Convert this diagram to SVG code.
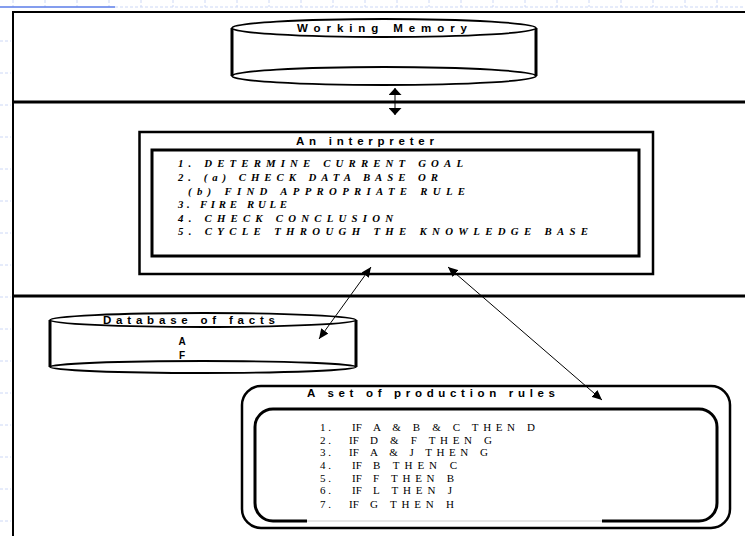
<svg xmlns="http://www.w3.org/2000/svg" width="745" height="536" viewBox="0 0 745 536">
  <style>
    .grid { stroke: #cdd8f6; stroke-width: 1; stroke-dasharray: 3 2; fill: none; }
    .frame { stroke: #000; fill: none; }
    .side { stroke: #000; stroke-width: 3; }
    .ell { stroke: #000; stroke-width: 1.8; fill: #fff; }
    .lbl { font-family: "Liberation Sans", Arial, sans-serif; font-weight: bold; font-size: 11.5px; fill: #000; }
    .step { font-family: "Liberation Serif", "Times New Roman", serif; font-weight: bold; font-style: italic; font-size: 10.8px; fill: #000; }
    .rule { font-family: "Liberation Serif", "Times New Roman", serif; font-size: 11px; fill: #000; }
    .fact { font-family: "Liberation Sans", Arial, sans-serif; font-weight: bold; font-size: 10px; fill: #000; }
    .conn { stroke: #000; stroke-width: 1; fill: none; }
  </style>
  <defs>
    <marker id="ah" markerUnits="userSpaceOnUse" markerWidth="11" markerHeight="9" refX="10" refY="4.5" orient="auto-start-reverse">
      <path d="M0,0 L10,4.5 L0,9 z" fill="#000"/>
    </marker>
    <marker id="ahv" markerUnits="userSpaceOnUse" markerWidth="8" markerHeight="13" refX="7" refY="6.5" orient="auto-start-reverse">
      <path d="M0,0 L7,6.5 L0,13 z" fill="#000"/>
    </marker>
  </defs>

  <rect x="0" y="0" width="745" height="536" fill="#fff"/>

  <g id="background">
    <line class="grid" x1="115" y1="7" x2="745" y2="7"/>
    <path class="grid" d="M13,0V7 M45,0V7 M77,0V7 M109,0V7 M141,0V7 M173,0V7 M205,0V7 M237,0V7 M269,0V7 M301,0V7 M333,0V7 M365,0V7 M397,0V7 M429,0V7 M461,0V7 M493,0V7 M525,0V7 M557,0V7 M589,0V7 M621,0V7 M653,0V7 M685,0V7 M717,0V7"/>
    <path class="grid" d="M0,41H11 M0,73H11 M0,105H11 M0,137H11 M0,169H11 M0,201H11 M0,233H11 M0,265H11 M0,297H11 M0,329H11 M0,361H11 M0,393H11 M0,425H11 M0,457H11 M0,489H11 M0,521H11"/>
    <line x1="0" y1="7" x2="115" y2="7" stroke="#5b7de8" stroke-width="1.5"/>
  </g>

  <g id="frame">
    <line class="frame" x1="13" y1="12" x2="745" y2="12" stroke-width="2"/>
    <line class="frame" x1="13" y1="11" x2="13" y2="536" stroke-width="2"/>
    <line class="frame" x1="13" y1="102" x2="745" y2="102" stroke-width="3"/>
    <line class="frame" x1="13" y1="296" x2="745" y2="296" stroke-width="3"/>
  </g>

  <g id="working-memory">
    <rect x="232" y="28" width="304" height="48" fill="#fff"/>
    <ellipse class="ell" cx="384" cy="76" rx="152" ry="9"/>
    <line class="side" x1="232" y1="28" x2="232" y2="76"/>
    <line class="side" x1="536" y1="28" x2="536" y2="76"/>
    <ellipse class="ell" cx="384" cy="28" rx="152" ry="9"/>
    <text class="lbl" x="297" y="32" font-size="12px" textLength="170" lengthAdjust="spacing">Working Memory</text>
  </g>

  <g id="interpreter">
    <rect x="139.5" y="132" width="513.5" height="142" fill="#fff" stroke="#000" stroke-width="2.5"/>
    <rect x="152" y="150" width="487" height="106" fill="#fff" stroke="#000" stroke-width="3"/>
    <text class="lbl" x="296" y="145" textLength="138" lengthAdjust="spacing">An interpreter</text>
    <text class="step" x="178" y="167" textLength="285" lengthAdjust="spacing">1. DETERMINE CURRENT GOAL</text>
    <text class="step" x="178" y="181" textLength="260" lengthAdjust="spacing">2. (a) CHECK DATA BASE OR</text>
    <text class="step" x="188" y="195" textLength="277" lengthAdjust="spacing">(b) FIND APPROPRIATE RULE</text>
    <text class="step" x="178" y="208" textLength="109" lengthAdjust="spacing">3. FIRE RULE</text>
    <text class="step" x="178" y="222" textLength="215" lengthAdjust="spacing">4. CHECK CONCLUSION</text>
    <text class="step" x="178" y="235" textLength="410" lengthAdjust="spacing">5. CYCLE THROUGH THE KNOWLEDGE BASE</text>
  </g>

  <g id="database">
    <rect x="50" y="320" width="306" height="47" fill="#fff"/>
    <ellipse class="ell" cx="203" cy="367" rx="153" ry="6"/>
    <line class="side" x1="50" y1="320" x2="50" y2="367"/>
    <line class="side" x1="356" y1="320" x2="356" y2="367"/>
    <ellipse class="ell" cx="203" cy="320" rx="153" ry="7"/>
    <text class="lbl" x="103" y="324" textLength="172" lengthAdjust="spacing">Database of facts</text>
    <text class="fact" x="182" y="345" text-anchor="middle">A</text>
    <text class="fact" x="182" y="359" text-anchor="middle">F</text>
  </g>

  <g id="production-rules">
    <rect x="242" y="386" width="488" height="142" rx="19" ry="19" fill="#fff" stroke="#000" stroke-width="2.5"/>
    <rect x="255" y="409" width="462" height="112" rx="18" ry="18" fill="#fff" stroke="#000" stroke-width="3"/>
    <line x1="307" y1="521" x2="602" y2="521" stroke="#fff" stroke-width="4"/>
    <line x1="307" y1="521" x2="602" y2="521" stroke="#bbb" stroke-width="0.8"/>
    <text class="lbl" x="307" y="397" textLength="248" lengthAdjust="spacing">A set of production rules</text>
    <text class="rule" x="320" y="431">1 .</text>
    <text class="rule" x="352" y="431">IF</text>
    <text class="rule" x="373" y="431" textLength="162" lengthAdjust="spacing">A &amp; B &amp; C THEN D</text>
    <text class="rule" x="320" y="444">2 .</text>
    <text class="rule" x="349" y="444">IF</text>
    <text class="rule" x="370" y="444" textLength="122" lengthAdjust="spacing">D &amp; F THEN G</text>
    <text class="rule" x="320" y="456">3 .</text>
    <text class="rule" x="349" y="456">IF</text>
    <text class="rule" x="370" y="456" textLength="118" lengthAdjust="spacing">A &amp; J THEN G</text>
    <text class="rule" x="320" y="469">4 .</text>
    <text class="rule" x="352" y="469">IF</text>
    <text class="rule" x="373" y="469" textLength="84" lengthAdjust="spacing">B THEN C</text>
    <text class="rule" x="320" y="482">5 .</text>
    <text class="rule" x="352" y="482">IF</text>
    <text class="rule" x="373" y="482" textLength="81" lengthAdjust="spacing">F THEN B</text>
    <text class="rule" x="320" y="494">6 .</text>
    <text class="rule" x="352" y="494">IF</text>
    <text class="rule" x="373" y="494" textLength="79" lengthAdjust="spacing">L THEN J</text>
    <text class="rule" x="320" y="508">7 .</text>
    <text class="rule" x="349" y="508">IF</text>
    <text class="rule" x="370" y="508" textLength="84" lengthAdjust="spacing">G THEN H</text>
  </g>

  <g id="connectors">
    <line class="conn" x1="395" y1="88" x2="395" y2="115" stroke-width="1.5" marker-start="url(#ahv)" marker-end="url(#ahv)"/>
    <line class="conn" x1="371" y1="267" x2="319" y2="339" marker-start="url(#ah)" marker-end="url(#ah)"/>
    <line class="conn" x1="448" y1="267" x2="602" y2="400" marker-start="url(#ah)" marker-end="url(#ah)"/>
  </g>
</svg>
